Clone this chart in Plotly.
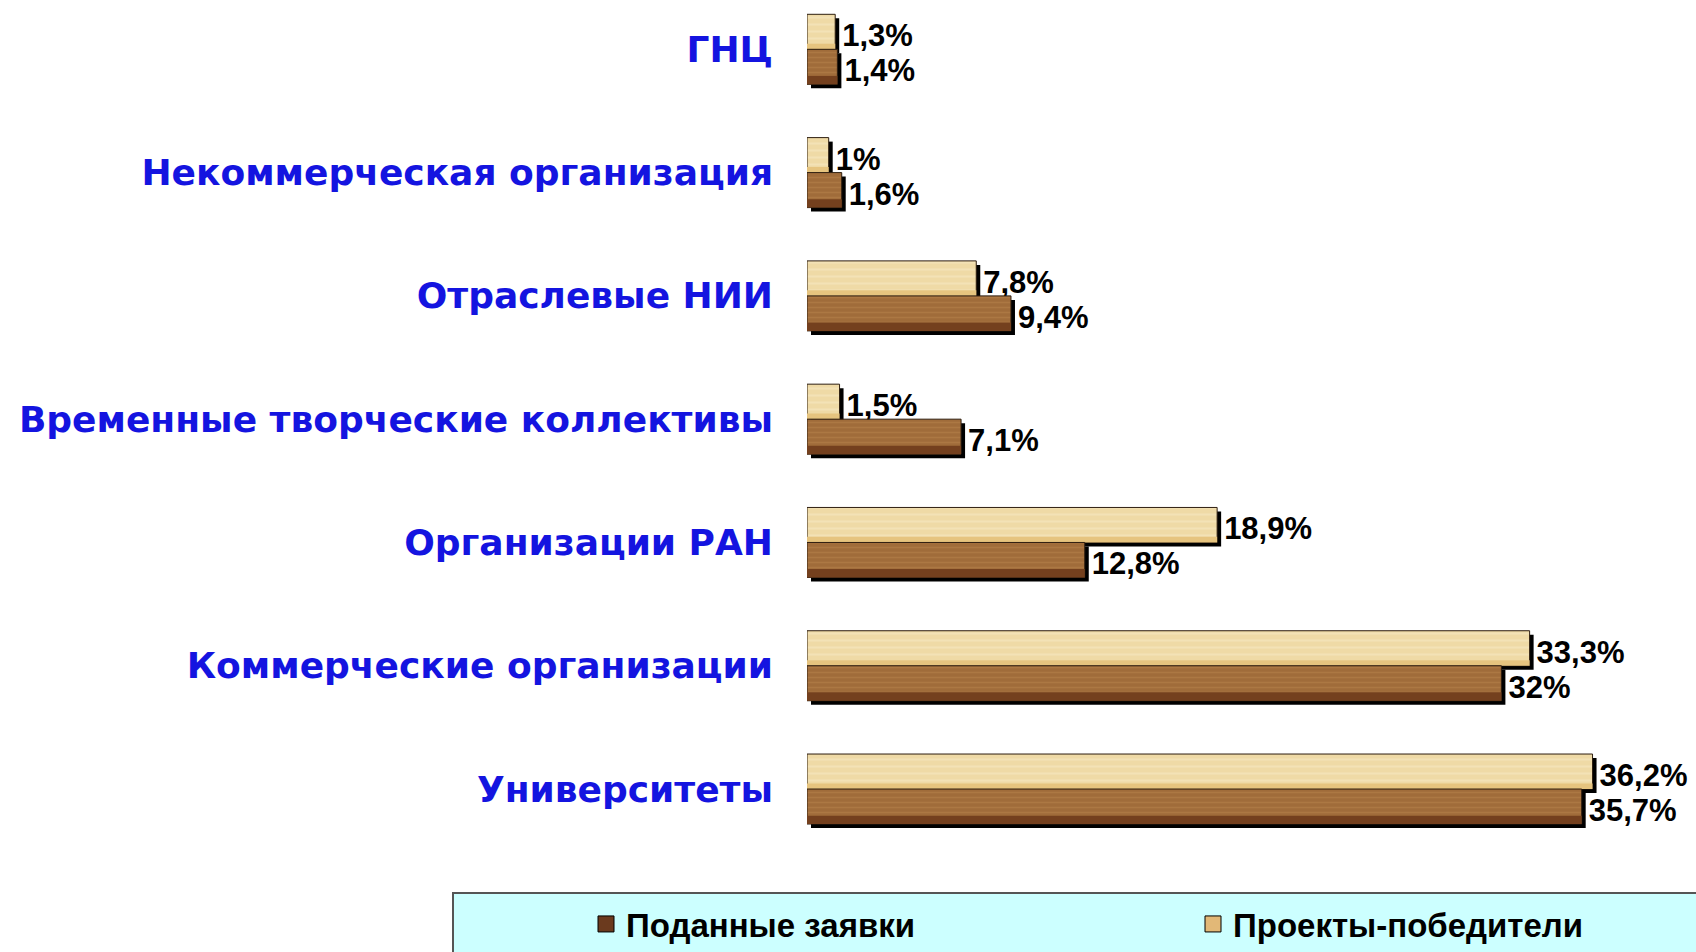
import plotly.graph_objects as go

# ---- data (top-to-bottom order as in the picture) ----
categories = ["ГНЦ", "Некоммерческая организация", "Отраслевые НИИ",
              "Временные творческие коллективы", "Организации РАН",
              "Коммерческие организации", "Университеты"]
winners = [1.3, 1.0, 7.8, 1.5, 18.9, 33.3, 36.2]      # Проекты-победители
submitted = [1.4, 1.6, 9.4, 7.1, 12.8, 32.0, 35.7]    # Поданные заявки
winner_labels = ["1,3%", "1%", "7,8%", "1,5%", "18,9%", "33,3%", "36,2%"]
submitted_labels = ["1,4%", "1,6%", "9,4%", "7,1%", "12,8%", "32%", "35,7%"]
series_names = ["Поданные заявки", "Проекты-победители"]

# ---- styling ----
W, H = 1696, 952
ML, MR, MT, MB = 807, 0, 0, 89
PX_PER_PCT = 21.7
plot_w = W - ML - MR
plot_h = H - MT - MB
x_max = plot_w / PX_PER_PCT
y_lo, y_hi = -0.6, 6.4
unit_px = plot_h / (y_hi - y_lo)

bar_w = 35 / unit_px
sh_dx = 4 / PX_PER_PCT
sh_dy = 4 / unit_px

LIGHT = "#EFDAA6"
LIGHT_FG = "#F7EAC6"
LIGHT_BAND = "#E6C47F"
DARK = "#A06C3A"
DARK_FG = "#B8844C"
DARK_BAND = "#74401E"
OUTLINE = "#2E1E10"

n = len(categories)
ypos = [n - 1 - i for i in range(n)]

fig = go.Figure()

# shadows (with value labels)
for vals, labs, off in [(winners, winner_labels, 0.0), (submitted, submitted_labels, -bar_w)]:
    fig.add_trace(go.Bar(
        x=vals, y=ypos, base=[sh_dx] * n, orientation="h",
        width=bar_w, offset=off - sh_dy,
        marker=dict(color="#000000", line=dict(width=0)),
        text=labs, textposition="outside", constraintext="none",
        textfont=dict(family="Liberation Sans", size=31, color="#000000", weight="bold"),
        cliponaxis=False, showlegend=False, hoverinfo="skip"))

# light bars (winners)
fig.add_trace(go.Bar(
    x=winners, y=ypos, orientation="h", width=bar_w, offset=0.0,
    marker=dict(color=LIGHT, line=dict(color=OUTLINE, width=1),
                pattern=dict(shape="-", fgcolor=LIGHT_FG, size=7, solidity=0.3, fillmode="overlay")),
    showlegend=False, hoverinfo="skip"))
fig.add_trace(go.Bar(
    x=winners, y=ypos, orientation="h", width=bar_w * 0.16, offset=0.0,
    marker=dict(color=LIGHT_BAND, line=dict(width=0)),
    showlegend=False, hoverinfo="skip"))

# dark bars (submitted)
fig.add_trace(go.Bar(
    x=submitted, y=ypos, orientation="h", width=bar_w, offset=-bar_w,
    marker=dict(color=DARK, line=dict(color=OUTLINE, width=1),
                pattern=dict(shape="-", fgcolor=DARK_FG, size=5, solidity=0.3, fillmode="overlay")),
    showlegend=False, hoverinfo="skip"))
fig.add_trace(go.Bar(
    x=submitted, y=ypos, orientation="h", width=bar_w * 0.24, offset=-bar_w,
    marker=dict(color=DARK_BAND, line=dict(width=0)),
    showlegend=False, hoverinfo="skip"))

# legend entries
for name, col in zip(series_names, ["#6B3A1E", "#E2B877"]):
    fig.add_trace(go.Scatter(
        x=[None], y=[None], mode="markers", name=name,
        marker=dict(symbol="square", size=16, color=col, line=dict(color="#000000", width=1))))

# legend background box
lx0 = (453 - ML) / plot_w
ly1 = -(893 - (MT + plot_h)) / plot_h
fig.add_shape(type="rect", xref="paper", yref="paper",
              x0=lx0, x1=1.05, y0=-0.2, y1=ly1,
              fillcolor="#CCFFFF", line=dict(color="#555555", width=2), layer="below")

fig.update_layout(
    width=W, height=H,
    margin=dict(l=ML, r=MR, t=MT, b=MB, autoexpand=False),
    paper_bgcolor="#FFFFFF", plot_bgcolor="#FFFFFF",
    barmode="overlay",
    xaxis=dict(range=[0, x_max], visible=False),
    yaxis=dict(range=[y_lo, y_hi], tickvals=ypos, ticktext=categories,
               showgrid=False, zeroline=False, showline=False, ticks="",
               ticklabelstandoff=33, automargin=False,
               tickfont=dict(family="DejaVu Sans", size=36, color="#1414E0", weight="bold")),
    legend=dict(orientation="h", x=(586 - ML) / plot_w, xanchor="left",
                y=-(924 - (MT + plot_h)) / plot_h, yanchor="middle",
                bgcolor="rgba(0,0,0,0)", entrywidth=562, entrywidthmode="pixels",
                font=dict(family="Liberation Sans", size=33, color="#000000", weight="bold"),
                traceorder="normal"),
    showlegend=True,
)

fig.write_html("out.html", config={"displayModeBar": False},
               post_script="document.body.style.margin='0px';document.body.style.overflow='hidden';")
